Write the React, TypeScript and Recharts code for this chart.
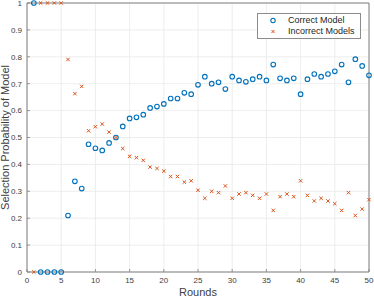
import { CartesianGrid, Legend, ReferenceLine, Scatter, ScatterChart, XAxis, YAxis } from 'recharts';

const rounds = [
  1, 2, 3, 4, 5, 6, 7, 8, 9, 10, 11, 12, 13, 14, 15, 16, 17, 18, 19, 20, 21, 22, 23, 24, 25,
  26, 27, 28, 29, 30, 31, 32, 33, 34, 35, 36, 37, 38, 39, 40, 41, 42, 43, 44, 45, 46, 47, 48, 49, 50,
];

const correctModel = [
  1.0, 0, 0, 0, 0, 0.21, 0.337, 0.31, 0.475, 0.46, 0.452, 0.48, 0.5, 0.541, 0.571, 0.575, 0.585,
  0.61, 0.615, 0.625, 0.645, 0.645, 0.666, 0.661, 0.696, 0.726, 0.7, 0.705, 0.68, 0.726, 0.712,
  0.707, 0.717, 0.726, 0.712, 0.771, 0.72, 0.712, 0.72, 0.661, 0.717, 0.736, 0.726, 0.736, 0.746,
  0.771, 0.705, 0.791, 0.766, 0.731,
];

const incorrectModels = [
  0, 1, 1, 1, 1, 0.79, 0.663, 0.69, 0.525, 0.54, 0.55, 0.52, 0.5, 0.459, 0.43, 0.425, 0.415, 0.39,
  0.385, 0.375, 0.355, 0.355, 0.334, 0.339, 0.304, 0.274, 0.3, 0.295, 0.32, 0.274, 0.29, 0.295,
  0.285, 0.274, 0.29, 0.229, 0.28, 0.29, 0.28, 0.339, 0.285, 0.264, 0.274, 0.264, 0.254, 0.229,
  0.295, 0.21, 0.234, 0.269,
];

const xTicks = [0, 5, 10, 15, 20, 25, 30, 35, 40, 45, 50];
const yTicks = [0, 0.1, 0.2, 0.3, 0.4, 0.5, 0.6, 0.7, 0.8, 0.9, 1];

const BLUE = '#0072BD';
const ORANGE = '#D95319';
const AXIS = '#808080';
const TEXT = '#404040';
const FONT = '"Liberation Sans", Arial, Helvetica, sans-serif';

const correctData = rounds.map((r, i) => ({ round: r, p: correctModel[i] }));
const incorrectData = rounds.map((r, i) => ({ round: r, p: incorrectModels[i] }));

const CircleMark = (props: any) => (
  <circle cx={props.cx} cy={props.cy} r={2.3} fill="none" stroke={BLUE} strokeWidth={1.1} />
);

const CrossMark = (props: any) => {
  const { cx, cy } = props;
  const d = 1.7;
  return (
    <path
      d={`M${cx - d},${cy - d}L${cx + d},${cy + d}M${cx - d},${cy + d}L${cx + d},${cy - d}`}
      stroke={ORANGE}
      strokeWidth={1}
      fill="none"
    />
  );
};

const makeTick = (side: 'bottom' | 'left' | 'top' | 'right', label: boolean) => (props: any) => {
  const { x, y, payload } = props;
  const len = 3;
  let line;
  if (side === 'bottom') line = <line x1={x} y1={y} x2={x} y2={y - len} />;
  else if (side === 'top') line = <line x1={x} y1={y} x2={x} y2={y + len} />;
  else if (side === 'left') line = <line x1={x} y1={y} x2={x + len} y2={y} />;
  else line = <line x1={x} y1={y} x2={x - len} y2={y} />;
  return (
    <g>
      <g stroke={AXIS} strokeWidth={0.8}>{line}</g>
      {label && side === 'bottom' && (
        <text x={x} y={y + 5} dy="0.71em" textAnchor="middle" fontSize={8} fill={TEXT} fontFamily={FONT}>
          {payload.value}
        </text>
      )}
      {label && side === 'left' && (
        <text x={x - 5} y={y} dy="0.355em" textAnchor="end" fontSize={8} fill={TEXT} fontFamily={FONT}>
          {payload.value}
        </text>
      )}
    </g>
  );
};

const LegendBox = () => (
  <div
    style={{
      border: '1px solid #8c8c8c',
      background: '#fff',
      fontFamily: FONT,
      fontSize: 9,
      color: '#262626',
      padding: '1px 0',
      lineHeight: '11px',
    }}
  >
    <div style={{ display: 'flex', alignItems: 'center' }}>
      <svg width={30} height={11}>
        <circle cx={15} cy={5.5} r={2.2} fill="none" stroke={BLUE} strokeWidth={1.1} />
      </svg>
      <span>Correct Model</span>
    </div>
    <div style={{ display: 'flex', alignItems: 'center' }}>
      <svg width={30} height={11}>
        <path d="M13.5,4L16.5,7M13.5,7L16.5,4" stroke={ORANGE} strokeWidth={1} />
      </svg>
      <span>Incorrect Models</span>
    </div>
  </div>
);

export default function App() {
  return (
    <div style={{ position: 'absolute', left: 0, top: 0, background: '#fff' }}>
      <ScatterChart width={374} height={298} margin={{ top: 3, right: 5, left: 0, bottom: 0 }}>
        <CartesianGrid stroke="#e8e8e8" strokeWidth={0.8} />
        <XAxis
          xAxisId={0}
          dataKey="round"
          type="number"
          domain={[0, 50]}
          ticks={xTicks}
          interval={0}
          height={26}
          tickSize={0}
          tickMargin={0}
          stroke={AXIS}
          tick={makeTick('bottom', true)}
          label={{
            content: (p: any) => (
              <text
                x={p.viewBox.x + p.viewBox.width / 2}
                y={p.viewBox.y + p.viewBox.height - 2}
                textAnchor="middle"
                fontSize={11}
                fill={TEXT}
                fontFamily={FONT}
              >
                Rounds
              </text>
            ),
          }}
        />
        <XAxis
          xAxisId="top"
          orientation="top"
          type="number"
          domain={[0, 50]}
          ticks={xTicks}
          interval={0}
          height={0}
          tickSize={0}
          tickMargin={0}
          stroke={AXIS}
          tick={makeTick('top', false)}
        />
        <YAxis
          yAxisId={0}
          dataKey="p"
          type="number"
          domain={[0, 1]}
          ticks={yTicks}
          interval={0}
          width={27}
          tickSize={0}
          tickMargin={0}
          stroke={AXIS}
          tick={makeTick('left', true)}
          label={{
            content: (p: any) => {
              const cx = 9;
              const cy = p.viewBox.y + p.viewBox.height / 2;
              return (
                <text
                  x={cx}
                  y={cy}
                  transform={`rotate(-90, ${cx}, ${cy})`}
                  textAnchor="middle"
                  fontSize={11}
                  fill={TEXT}
                  fontFamily={FONT}
                >
                  Selection Probability of Model
                </text>
              );
            },
          }}
        />
        <YAxis
          yAxisId="right"
          orientation="right"
          type="number"
          domain={[0, 1]}
          ticks={yTicks}
          interval={0}
          width={0}
          tickSize={0}
          tickMargin={0}
          stroke={AXIS}
          tick={makeTick('right', false)}
        />
        {/* box edges, in case the mirror axes draw no line */}
        <ReferenceLine xAxisId={0} yAxisId={0} y={1} stroke={AXIS} strokeWidth={1} />
        <ReferenceLine xAxisId={0} yAxisId={0} x={50} stroke={AXIS} strokeWidth={1} />
        <Legend
          layout="horizontal"
          align="center"
          verticalAlign="middle"
          content={<LegendBox />}
          wrapperStyle={{ position: 'absolute', left: 257, top: 13, width: 104 }}
        />
        <Scatter
          name="Correct Model"
          data={correctData}
          xAxisId={0}
          yAxisId={0}
          shape={CircleMark}
          isAnimationActive={false}
        />
        <Scatter
          name="Incorrect Models"
          data={incorrectData}
          xAxisId={0}
          yAxisId={0}
          shape={CrossMark}
          isAnimationActive={false}
        />
      </ScatterChart>
    </div>
  );
}
